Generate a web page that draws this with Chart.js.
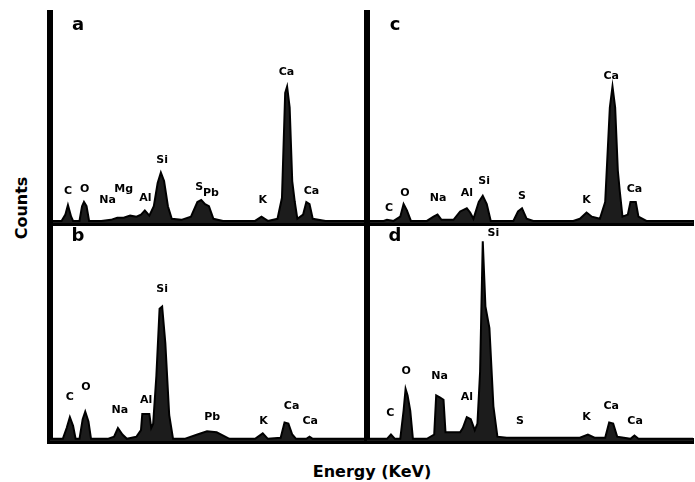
<!DOCTYPE html>
<html>
<head>
<meta charset="utf-8">
<script src="https://cdn.jsdelivr.net/npm/chart.js@4.4.1/dist/chart.umd.min.js"></script>
<style>
  body { margin: 0; background: #fff; }
  #wrap { position: relative; width: 695px; height: 482px; overflow: hidden; background: #fff; }
  #wrap canvas { position: absolute; }
  .axis-title { position: absolute; font: bold 16px "DejaVu Sans", sans-serif; color: #000; white-space: nowrap; }
</style>
</head>
<body>
<div id="wrap">
  <canvas id="pa" style="left:46px;top:10px;width:320px;height:217px"></canvas>
  <canvas id="pc" style="left:363px;top:10px;width:332px;height:217px"></canvas>
  <canvas id="pb" style="left:46px;top:221px;width:320px;height:224px"></canvas>
  <canvas id="pd" style="left:363px;top:221px;width:332px;height:224px"></canvas>
  <div class="axis-title" style="left:21px;top:208px;transform:translate(-50%,-50%) rotate(-90deg)">Counts</div>
  <div class="axis-title" style="left:372px;top:471px;transform:translate(-50%,-50%)">Energy (KeV)</div>
</div>
<script>
// spectra, energy in keV, counts in arbitrary units (0-100 = panel height)
const energyA = [0, 0.18, 0.24, 0.28, 0.33, 0.36, 0.46, 0.50, 0.53, 0.57, 0.61, 0.80, 0.95, 1.05, 1.15, 1.25, 1.35, 1.42, 1.48, 1.55, 1.62, 1.68, 1.73, 1.78, 1.84, 1.90, 2.05, 2.20, 2.30, 2.36, 2.42, 2.48, 2.55, 2.70, 3.20, 3.30, 3.40, 3.55, 3.62, 3.67, 3.70, 3.74, 3.78, 3.82, 3.86, 3.95, 4.00, 4.05, 4.10, 4.30, 4.90];
const countsA = [1, 1, 4, 8.5, 3, 1, 1, 8, 10, 8, 1, 1, 1.5, 2.5, 2.5, 3.5, 3, 4, 6, 3.5, 8, 19, 24, 20, 8, 2, 1.5, 3, 10, 11, 9, 8, 2, 1, 1, 3, 1, 2, 12, 62, 65, 55, 20, 10, 2, 4, 10, 9, 2, 1, 1];

const energyB = [0, 0.20, 0.26, 0.31, 0.36, 0.40, 0.46, 0.51, 0.55, 0.60, 0.64, 0.90, 1.00, 1.06, 1.13, 1.20, 1.35, 1.42, 1.44, 1.55, 1.58, 1.61, 1.66, 1.71, 1.75, 1.80, 1.86, 1.92, 2.10, 2.30, 2.45, 2.60, 2.80, 3.20, 3.32, 3.40, 3.60, 3.66, 3.72, 3.78, 3.84, 4.00, 4.05, 4.10, 4.90];
const countsB = [1, 1, 6, 11, 7, 1, 1, 10, 13.5, 9, 1, 1, 2, 6, 3, 1, 2, 5, 12.5, 12.5, 6, 8, 30, 61, 62, 45, 12, 1, 1, 3, 4.5, 4, 1, 1, 3.5, 1, 1.5, 8.5, 8, 3, 1, 1, 2, 1, 1];

const energyC = [0, 0.25, 0.30, 0.40, 0.50, 0.55, 0.60, 0.66, 0.90, 1.00, 1.06, 1.12, 1.30, 1.40, 1.50, 1.55, 1.60, 1.68, 1.74, 1.80, 1.86, 2.20, 2.27, 2.33, 2.40, 2.50, 3.10, 3.20, 3.30, 3.38, 3.50, 3.58, 3.65, 3.69, 3.73, 3.77, 3.80, 3.84, 3.92, 3.96, 4.04, 4.08, 4.20, 4.90];
const countsC = [1, 1, 1.5, 1, 3, 9, 6, 1, 1, 3, 4, 1.5, 1.5, 5.5, 7, 5, 2, 10, 13, 9, 1, 1, 5.5, 7, 2, 1, 1, 2, 5, 3, 2, 10, 55, 65, 55, 25, 15, 3, 4, 10, 10, 3, 1, 1];

const energyD = [0, 0.30, 0.36, 0.42, 0.50, 0.55, 0.58, 0.61, 0.65, 0.69, 0.90, 1.01, 1.04, 1.10, 1.15, 1.18, 1.40, 1.44, 1.50, 1.56, 1.62, 1.66, 1.70, 1.74, 1.78, 1.84, 1.90, 1.96, 2.10, 3.20, 3.32, 3.42, 3.58, 3.64, 3.70, 3.76, 3.96, 4.02, 4.08, 4.90];
const countsD = [1, 1, 3, 1, 1, 14, 24, 21, 14, 1, 1, 3, 21, 20, 19, 4, 4, 6, 11, 10, 5, 8, 32, 92, 62, 52, 16, 2, 1.5, 1.5, 3, 1.5, 1.5, 8.5, 8, 2, 1, 2.5, 1, 1];

// peak labels: element, energy position, height of label centre
const namesA = ['C', 'O', 'Na', 'Mg', 'Al', 'Si', 'S', 'Pb', 'K', 'Ca', 'Ca'];
const labelXA = [0.28, 0.54, 0.90, 1.15, 1.49, 1.75, 2.33, 2.51, 3.32, 3.69, 4.08];
const labelYA = [15, 16, 11, 16, 12, 30, 17, 14, 11, 72, 15];

const namesB = ['C', 'O', 'Na', 'Al', 'Si', 'Pb', 'K', 'Ca', 'Ca'];
const labelXB = [0.31, 0.56, 1.09, 1.50, 1.75, 2.53, 3.33, 3.77, 4.06];
const labelYB = [20, 25, 14, 19, 70, 11, 9, 16, 9];

const namesC = ['C', 'O', 'Na', 'Al', 'Si', 'S', 'K', 'Ca', 'Ca'];
const labelXC = [0.33, 0.57, 1.07, 1.50, 1.76, 2.33, 3.30, 3.67, 4.02];
const labelYC = [7, 14, 12, 14, 20, 13, 11, 70, 16];

const namesD = ['C', 'O', 'Na', 'Al', 'Si', 'S', 'K', 'Ca', 'Ca'];
const labelXD = [0.35, 0.59, 1.09, 1.50, 1.90, 2.30, 3.30, 3.67, 4.03];
const labelYD = [13, 32, 30, 20, 96, 9, 11, 16, 9];

const energyMax = 4.9;

const peakLabels = {
    id: 'peakLabels',
    afterDatasetsDraw(chart, args, opts) {
        const { ctx, chartArea } = chart;
        const x = chart.scales.x;
        const y = chart.scales.y;
        ctx.save();
        ctx.fillStyle = '#000';
        ctx.textAlign = 'center';
        ctx.textBaseline = 'middle';
        ctx.font = 'bold 11px "DejaVu Sans", sans-serif';
        opts.names.forEach((name, i) => {
            ctx.fillText(name, x.getPixelForValue(opts.xs[i]), y.getPixelForValue(opts.ys[i]));
        });
        ctx.font = 'bold 18px "DejaVu Sans", sans-serif';
        ctx.fillText(opts.letter, chartArea.left + 28, chartArea.top + 12);
        ctx.restore();
    },
};

function makePanel(id, letter, energy, counts, names, xs, ys) {
    const points = energy.map((e, i) => ({ x: e, y: counts[i] }));
    return new Chart(document.getElementById(id), {
        type: 'line',
        data: {
            datasets: [
                {
                    data: points,
                    borderColor: '#000',
                    borderWidth: 2,
                    backgroundColor: '#1c1c1c',
                    fill: 'origin',
                    tension: 0,
                    pointRadius: 0,
                },
            ],
        },
        options: {
            responsive: false,
            animation: false,
            layout: { padding: { left: 4, top: 3, right: 2, bottom: 4 } },
            plugins: {
                legend: { display: false },
                tooltip: { enabled: false },
                peakLabels: { letter, names, xs, ys },
            },
            scales: {
                x: {
                    type: 'linear',
                    min: 0,
                    max: energyMax,
                    grid: { display: false, drawTicks: false },
                    ticks: { display: false },
                    border: { display: true, color: '#000', width: 6 },
                },
                y: {
                    min: 0,
                    max: 100,
                    grid: { display: false, drawTicks: false },
                    ticks: { display: false },
                    border: { display: true, color: '#000', width: 6 },
                },
            },
        },
        plugins: [peakLabels],
    });
}

function sizeCanvas(id) {
    const c = document.getElementById(id);
    c.width = parseInt(c.style.width);
    c.height = parseInt(c.style.height);
}
['pa', 'pb', 'pc', 'pd'].forEach(sizeCanvas);

makePanel('pa', 'a', energyA, countsA, namesA, labelXA, labelYA);
makePanel('pb', 'b', energyB, countsB, namesB, labelXB, labelYB);
makePanel('pc', 'c', energyC, countsC, namesC, labelXC, labelYC);
makePanel('pd', 'd', energyD, countsD, namesD, labelXD, labelYD);
</script>
</body>
</html>
